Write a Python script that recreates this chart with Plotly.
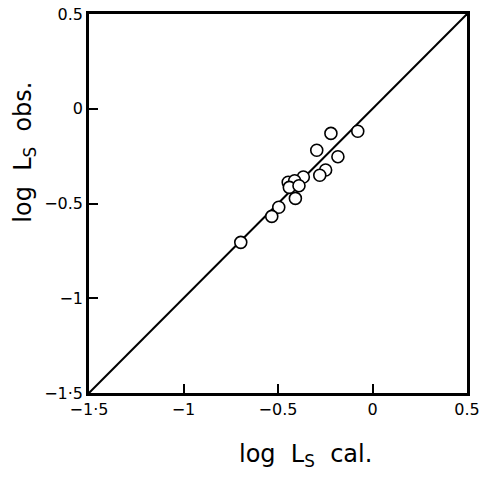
import plotly.graph_objects as go

# observed vs calculated log L_S
x_cal = [-0.220, -0.078, -0.295, -0.183, -0.366, -0.248, -0.279, -0.446, -0.412,
         -0.440, -0.389, -0.408, -0.496, -0.533, -0.697]
y_obs = [-0.130, -0.119, -0.219, -0.253, -0.360, -0.323, -0.351, -0.388, -0.380,
         -0.415, -0.406, -0.473, -0.520, -0.568, -0.705]

line_x = [-1.5, 0.5]
line_y = [-1.5, 0.5]

x_tickvals = [-1.5, -1, -0.5, 0, 0.5]
x_ticktext = ["\u22121\u00b75", "\u22121", "\u22120.5", "0", "0.5"]
y_tickvals = [-1.5, -1, -0.5, 0, 0.5]
y_ticktext = ["\u22121\u00b75", "\u22121", "\u22120.5", "0", "0.5"]

x_title = "log\u00a0\u00a0L<sub>S</sub>\u00a0\u00a0cal."
y_title = "log\u00a0\u00a0L<sub>S</sub>\u00a0\u00a0obs."

fig = go.Figure()
fig.add_trace(go.Scatter(x=line_x, y=line_y, mode="lines",
                         line=dict(color="black", width=2), showlegend=False,
                         hoverinfo="skip"))
fig.add_trace(go.Scatter(x=x_cal, y=y_obs, mode="markers",
                         marker=dict(symbol="circle", size=12, color="white",
                                     line=dict(color="black", width=1.6)),
                         showlegend=False))

font = dict(family="DejaVu Sans, Arial, sans-serif", color="black")

fig.update_layout(
    width=482, height=479,
    margin=dict(l=89, r=15, t=14, b=86),
    paper_bgcolor="white", plot_bgcolor="white",
    font=dict(size=16, **font),
    xaxis=dict(range=[-1.5, 0.5], tickvals=x_tickvals, ticktext=x_ticktext,
               ticks="inside", ticklen=9, tickwidth=1.5, tickcolor="black",
               showline=True, linecolor="black", linewidth=2.5, mirror=True,
               showgrid=False, zeroline=False, automargin=False,
               ticklabeloverflow="allow"),
    yaxis=dict(range=[-1.5, 0.5], tickvals=y_tickvals, ticktext=y_ticktext,
               ticks="inside", ticklen=9, tickwidth=1.5, tickcolor="black",
               showline=True, linecolor="black", linewidth=2.5, mirror=True,
               showgrid=False, zeroline=False, automargin=False,
               ticklabeloverflow="allow"),
    annotations=[
        dict(text=x_title, xref="paper", yref="paper", x=0.574, y=-0.166,
             xanchor="center", yanchor="middle", showarrow=False,
             font=dict(size=24, **font)),
        dict(text=y_title, xref="paper", yref="paper", x=-0.17, y=0.636,
             xanchor="center", yanchor="middle", showarrow=False, textangle=-90,
             font=dict(size=24, **font)),
    ],
)

fig.write_html("out.html",
               config={"displayModeBar": False},
               post_script="document.body.style.margin='0';"
                           "document.body.style.overflow='hidden';")
